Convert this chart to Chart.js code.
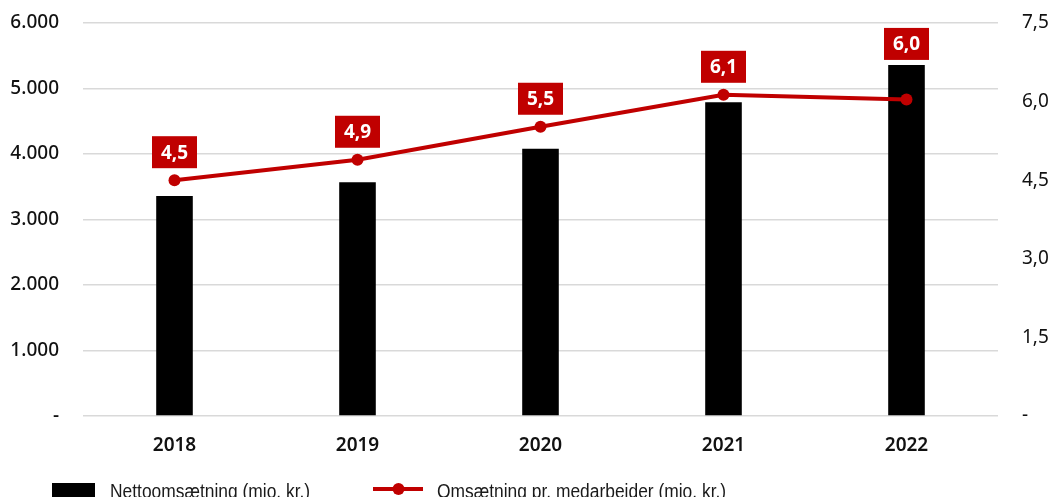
<!DOCTYPE html>
<html>
<head>
<meta charset="utf-8">
<script src="https://cdn.jsdelivr.net/npm/chart.js@4"></script>
<style>
  html, body { margin: 0; padding: 0; background: #fff; }
  #wrap { width: 1051px; height: 497px; position: relative; }
</style>
</head>
<body>
<div id="wrap"><canvas id="chart" width="1051" height="497"></canvas></div>
<script>
const years = ['2018', '2019', '2020', '2021', '2022'];
const revenue = [3360, 3570, 4080, 4790, 5360];
const perEmployee = [4.50, 4.89, 5.52, 6.13, 6.04];
const leftTicks = [0, 1000, 2000, 3000, 4000, 5000, 6000];
const rightTicks = [0, 1.5, 3.0, 4.5, 6.0, 7.5];
const barLabel = 'Nettoomsætning (mio. kr.)';
const lineLabel = 'Omsætning pr. medarbejder (mio. kr.)';

const RED = '#c00000';
const GRID = '#d9d9d9';
const FONT = "'Noto Sans', 'DejaVu Sans', sans-serif";
const LEGEND_FONT = "'Liberation Sans', sans-serif";

const fmtLeft = v => v === 0 ? '-' : v.toLocaleString('de-DE');
const fmtRight = v => v === 0 ? '-' : v.toFixed(1).replace('.', ',');

// red value boxes above the line points
const valueBoxes = {
  id: 'valueBoxes',
  afterDatasetsDraw(chart) {
    const ctx = chart.ctx;
    const bars = chart.getDatasetMeta(0).data;
    const pts = chart.getDatasetMeta(1).data;
    ctx.save();
    ctx.font = 'bold 19px ' + FONT;
    ctx.textAlign = 'center';
    ctx.textBaseline = 'middle';
    pts.forEach((p, i) => {
      const w = 45, h = 32;
      const bottom = Math.min(p.y - 12, bars[i].y - 5);
      ctx.fillStyle = RED;
      ctx.fillRect(p.x - w / 2, bottom - h, w, h);
      ctx.fillStyle = '#fff';
      ctx.fillText(fmtRight(perEmployee[i]), p.x, bottom - h / 2 + 1);
    });
    ctx.restore();
  }
};

// condensed text: squeeze horizontally so it looks like the narrow legend face
function narrowText(ctx, text, x, y, squeeze) {
  ctx.save();
  ctx.translate(x, y);
  ctx.scale(squeeze, 1);
  ctx.fillText(text, 0, 0);
  ctx.restore();
}

// bottom legend
const bottomLegend = {
  id: 'bottomLegend',
  afterDraw(chart) {
    const ctx = chart.ctx;
    const y = 489;
    ctx.save();
    ctx.fillStyle = '#000';
    ctx.fillRect(52, 483, 43, 14);
    ctx.strokeStyle = RED;
    ctx.lineWidth = 4;
    ctx.beginPath();
    ctx.moveTo(373, y);
    ctx.lineTo(423, y);
    ctx.stroke();
    ctx.fillStyle = RED;
    ctx.beginPath();
    ctx.arc(398.5, y, 6, 0, Math.PI * 2);
    ctx.fill();
    ctx.fillStyle = '#1a1a1a';
    ctx.font = '20px ' + LEGEND_FONT;
    ctx.textBaseline = 'alphabetic';
    ctx.textAlign = 'left';
    narrowText(ctx, barLabel, 110, 498, 0.87);
    narrowText(ctx, lineLabel, 437, 498, 0.87);
    ctx.restore();
  }
};

new Chart(document.getElementById('chart'), {
  data: {
    labels: years,
    datasets: [
      {
        type: 'bar',
        label: barLabel,
        data: revenue,
        backgroundColor: '#000',
        yAxisID: 'y',
        barPercentage: 0.2,
        categoryPercentage: 1.0,
        order: 2
      },
      {
        type: 'line',
        label: lineLabel,
        data: perEmployee,
        borderColor: RED,
        backgroundColor: RED,
        borderWidth: 4,
        pointRadius: 6,
        pointBackgroundColor: RED,
        pointBorderWidth: 0,
        yAxisID: 'y2',
        order: 1
      }
    ]
  },
  options: {
    responsive: false,
    animation: false,
    layout: { padding: { top: 23, left: 0, right: 0, bottom: 0 } },
    plugins: {
      legend: { display: false },
      tooltip: { enabled: false }
    },
    scales: {
      x: {
        grid: { display: false },
        border: { display: false },
        ticks: { color: '#111', font: { family: FONT, size: 19, weight: '600' }, padding: 10 },
        afterFit(s) { s.height = 81; s.paddingLeft = 0; s.paddingRight = 0; }
      },
      y: {
        position: 'left',
        min: 0,
        max: 6000,
        afterBuildTicks(s) { s.ticks = leftTicks.map(v => ({ value: v })); },
        ticks: { color: '#111', font: { family: FONT, size: 19, weight: '500' }, padding: 24, callback: fmtLeft },
        grid: { color: GRID, lineWidth: 1.5, drawTicks: false },
        border: { display: false },
        afterFit(s) { s.width = 83; s.paddingTop = 0; s.paddingBottom = 0; }
      },
      y2: {
        position: 'right',
        min: 0,
        max: 7.5,
        afterBuildTicks(s) { s.ticks = rightTicks.map(v => ({ value: v })); },
        ticks: { color: '#111', font: { family: FONT, size: 19 }, padding: 24, callback: fmtRight },
        grid: { display: false, drawTicks: false },
        border: { display: false },
        afterFit(s) { s.width = 53; s.paddingTop = 0; s.paddingBottom = 0; }
      }
    }
  },
  plugins: [valueBoxes, bottomLegend]
});
</script>
</body>
</html>
